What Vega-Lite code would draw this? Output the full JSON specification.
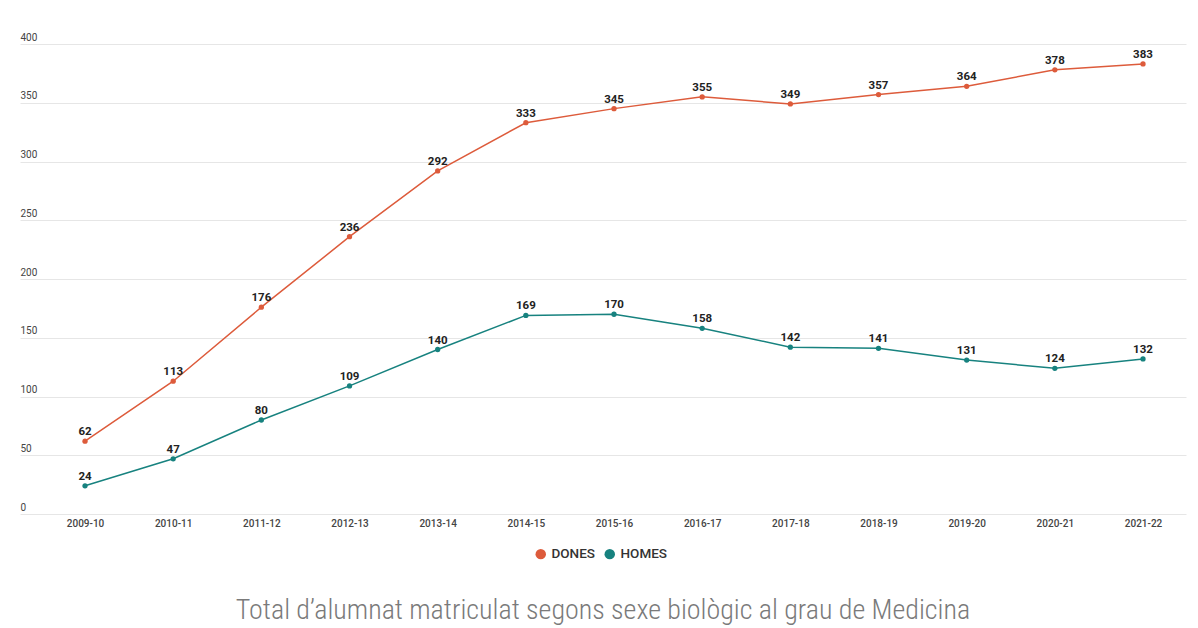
{
  "$schema": "https://vega.github.io/schema/vega-lite/v6.json",
  "autosize": {"type": "none"},
  "padding": {"left": 20, "top": 44, "right": 12, "bottom": 114},
  "width": 1166,
  "height": 470,
  "background": "white",
  "config": {"view": {"stroke": null}, "font": "Roboto"},
  "title": {
    "text": "Total d’alumnat matriculat segons sexe biològic al grau de Medicina",
    "orient": "bottom",
    "anchor": "middle",
    "font": "Roboto Condensed, Liberation Sans Narrow, Roboto",
    "fontSize": 28,
    "fontWeight": 300,
    "color": "#7a7a7a",
    "offset": 36
  },
  "data": {
    "values": [
      {"curs": "2009-10", "sexe": "DONES", "n": 62},
      {"curs": "2010-11", "sexe": "DONES", "n": 113},
      {"curs": "2011-12", "sexe": "DONES", "n": 176},
      {"curs": "2012-13", "sexe": "DONES", "n": 236},
      {"curs": "2013-14", "sexe": "DONES", "n": 292},
      {"curs": "2014-15", "sexe": "DONES", "n": 333},
      {"curs": "2015-16", "sexe": "DONES", "n": 345},
      {"curs": "2016-17", "sexe": "DONES", "n": 355},
      {"curs": "2017-18", "sexe": "DONES", "n": 349},
      {"curs": "2018-19", "sexe": "DONES", "n": 357},
      {"curs": "2019-20", "sexe": "DONES", "n": 364},
      {"curs": "2020-21", "sexe": "DONES", "n": 378},
      {"curs": "2021-22", "sexe": "DONES", "n": 383},
      {"curs": "2009-10", "sexe": "HOMES", "n": 24},
      {"curs": "2010-11", "sexe": "HOMES", "n": 47},
      {"curs": "2011-12", "sexe": "HOMES", "n": 80},
      {"curs": "2012-13", "sexe": "HOMES", "n": 109},
      {"curs": "2013-14", "sexe": "HOMES", "n": 140},
      {"curs": "2014-15", "sexe": "HOMES", "n": 169},
      {"curs": "2015-16", "sexe": "HOMES", "n": 170},
      {"curs": "2016-17", "sexe": "HOMES", "n": 158},
      {"curs": "2017-18", "sexe": "HOMES", "n": 142},
      {"curs": "2018-19", "sexe": "HOMES", "n": 141},
      {"curs": "2019-20", "sexe": "HOMES", "n": 131},
      {"curs": "2020-21", "sexe": "HOMES", "n": 124},
      {"curs": "2021-22", "sexe": "HOMES", "n": 132}
    ]
  },
  "encoding": {
    "x": {
      "field": "curs", "type": "ordinal", "title": null,
      "scale": {"type": "point", "padding": 0.6125, "align": 0.602},
      "axis": {"labelAngle": 0, "ticks": false, "domain": false, "grid": false, "labelFont": "Roboto", "labelFontSize": 10, "labelFontWeight": 500, "labelColor": "#444", "labelPadding": 4}
    },
    "y": {
      "field": "n", "type": "quantitative", "title": null,
      "scale": {"domain": [0, 400]},
      "axis": {"values": [0, 50, 100, 150, 200, 250, 300, 350, 400], "ticks": false, "domain": false, "gridColor": "#e6e6e6", "gridWidth": 1, "labelAlign": "left", "labelBaseline": "bottom", "labelPadding": 0, "labelOffset": -2, "labelFont": "Roboto", "labelFontSize": 10, "labelColor": "#444"}
    },
    "color": {
      "field": "sexe", "type": "nominal",
      "scale": {"domain": ["DONES", "HOMES"], "range": ["#dd5b3b", "#17827f"]},
      "legend": {"orient": "none", "legendX": 514, "legendY": 503, "direction": "horizontal", "title": null, "symbolType": "circle", "symbolSize": 110, "symbolStrokeWidth": 0, "labelFont": "Roboto", "labelFontSize": 13.5, "labelFontWeight": 500, "labelColor": "#333", "columnPadding": 8, "symbolOpacity": 1}
    }
  },
  "layer": [
    {"mark": {"type": "line", "strokeWidth": 1.5}},
    {"mark": {"type": "circle", "size": 28, "opacity": 1}},
    {"mark": {"type": "text", "dy": -9, "font": "Roboto", "fontSize": 11.5, "fontWeight": "bold", "color": "#222"},
     "encoding": {"text": {"field": "n", "type": "quantitative"}, "color": {"value": "#222"}}}
  ]
}
